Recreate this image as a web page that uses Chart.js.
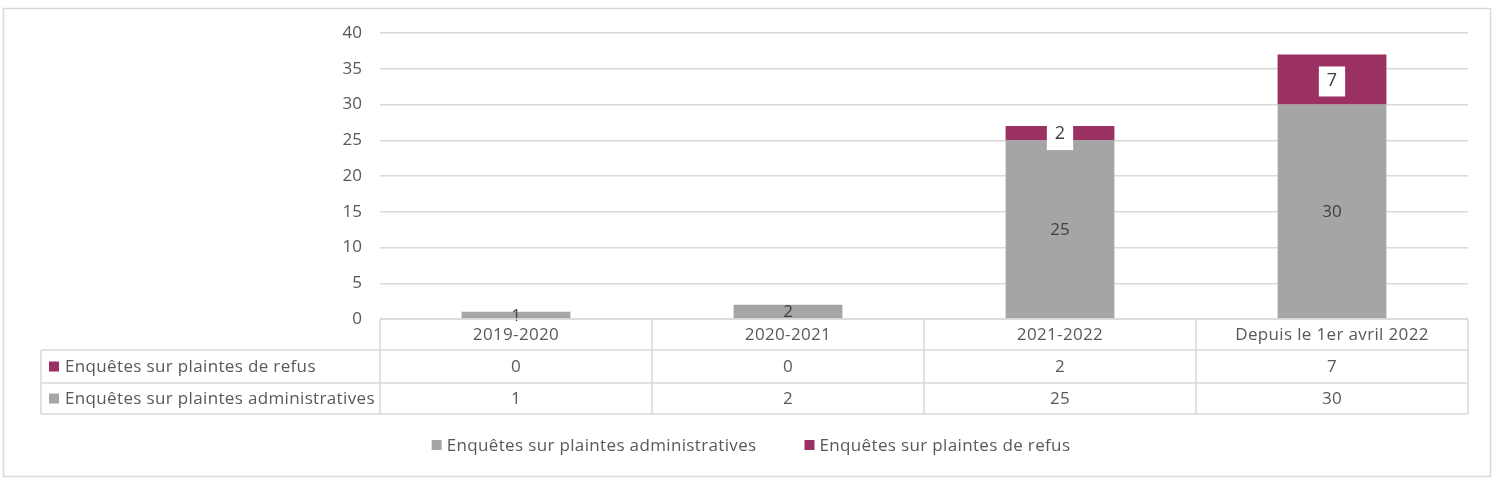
<!DOCTYPE html>
<html><head><meta charset="utf-8">
<script src="https://cdn.jsdelivr.net/npm/chart.js@4"></script>
<style>html,body{margin:0;padding:0;background:#fff;overflow:hidden}#wrap{width:1493px;height:479px;position:relative}</style>
</head><body><div id="wrap"><canvas id="c"></canvas></div>
<script>
const categories = ['2019-2020', '2020-2021', '2021-2022', 'Depuis le 1er avril 2022'];
const seriesNames = ['Enquêtes sur plaintes administratives', 'Enquêtes sur plaintes de refus'];
const adminValues = [1, 2, 25, 30];
const refusValues = [0, 0, 2, 7];
const yMin = 0, yMax = 40, yStep = 5;

const GRAY = '#A5A5A5', PURPLE = '#9B3163', GRID = '#D9D9D9', TXT = '#595959', LBL = '#404040';
const FONT = '"Open Sans", Lato, sans-serif';
const FS = 17;
const LS = '0.35px';

const frame = {
  id: 'frame',
  beforeDraw(chart) {
    const c = chart.ctx;
    c.save();
    c.fillStyle = '#fff'; c.fillRect(0, 0, chart.width, chart.height);
    c.strokeStyle = GRID; c.lineWidth = 1.5;
    c.strokeRect(3.5, 8.5, 1487, 468);
    c.restore();
  }
};

const valueLabels = {
  id: 'valueLabels',
  afterDatasetsDraw(chart) {
    const c = chart.ctx;
    c.save();
    c.textAlign = 'center'; c.textBaseline = 'middle';
    chart.data.datasets.forEach((ds, di) => {
      const meta = chart.getDatasetMeta(di);
      meta.data.forEach((el, i) => {
        const v = ds.data[i];
        if (!v) return;
        const cy = (el.y + el.base) / 2;
        const size = di === 1 ? 18 : FS;
        c.font = size + 'px ' + FONT;
        const t = String(v);
        if (di === 1) {
          const w = c.measureText(t).width + 16;
          const h = size + 12;
          c.fillStyle = '#fff';
          c.fillRect(el.x - w / 2, cy - h / 2 + 2, w, h);
        }
        c.fillStyle = LBL;
        c.fillText(t, el.x, cy + 1);
      });
    });
    c.restore();
  }
};

const dataTable = {
  id: 'dataTable',
  afterDraw(chart) {
    const c = chart.ctx, x = chart.scales.x, a = chart.chartArea;
    const n = categories.length;
    const cw = (a.right - a.left) / n;
    const tableLeft = 41;
    const rows = [a.bottom, a.bottom + 31, a.bottom + 64, a.bottom + 95];
    c.save();
    c.strokeStyle = GRID; c.lineWidth = 1.5;
    c.beginPath();
    c.moveTo(a.left, rows[0]); c.lineTo(a.right, rows[0]);
    for (let r = 1; r < rows.length; r++) { c.moveTo(tableLeft, rows[r]); c.lineTo(a.right, rows[r]); }
    c.moveTo(tableLeft, rows[1]); c.lineTo(tableLeft, rows[3]);
    for (let i = 0; i <= n; i++) {
      const px = a.left + i * cw;
      c.moveTo(px, rows[0]); c.lineTo(px, rows[3]);
    }
    c.stroke();
    c.font = FS + 'px ' + FONT;
    if ('letterSpacing' in c) c.letterSpacing = LS;
    c.fillStyle = TXT; c.textAlign = 'center'; c.textBaseline = 'middle';
    const tableRows = [
      { name: seriesNames[1], color: PURPLE, vals: refusValues },
      { name: seriesNames[0], color: GRAY, vals: adminValues }
    ];
    categories.forEach((cat, i) => {
      const px = x.getPixelForValue(i);
      c.fillText(cat, px, (rows[0] + rows[1]) / 2 + 1);
      tableRows.forEach((tr, r) => c.fillText(String(tr.vals[i]), px, (rows[r + 1] + rows[r + 2]) / 2 + 1));
    });
    c.textAlign = 'left';
    tableRows.forEach((tr, r) => {
      const cy = (rows[r + 1] + rows[r + 2]) / 2;
      c.fillStyle = tr.color; c.fillRect(49, cy - 5, 10, 10);
      c.fillStyle = TXT; c.fillText(tr.name, 65, cy + 1);
    });

    // legend below the table, centred on the frame
    const items = chart.data.datasets.map(ds => ({ label: ds.label, color: ds.backgroundColor }));
    const box = 10, gapBox = 5, gapItem = 48;
    const widths = items.map(it => box + gapBox + c.measureText(it.label).width);
    const total = widths.reduce((s, w) => s + w, 0) + gapItem * (items.length - 1);
    let lx = 751 - total / 2;
    const ly = 445;
    items.forEach((it, k) => {
      c.fillStyle = it.color; c.fillRect(lx, ly - 5, box, box);
      c.fillStyle = TXT; c.fillText(it.label, lx + box + gapBox, ly + 1);
      lx += widths[k] + gapItem;
    });
    c.restore();
  }
};

new Chart(document.getElementById('c'), {
  type: 'bar',
  data: {
    labels: categories,
    datasets: [
      { label: seriesNames[0], data: adminValues, backgroundColor: GRAY, barPercentage: 0.8, categoryPercentage: 0.5 },
      { label: seriesNames[1], data: refusValues, backgroundColor: PURPLE, barPercentage: 0.8, categoryPercentage: 0.5 }
    ]
  },
  options: {
    responsive: true, maintainAspectRatio: false, animation: false,
    layout: { padding: { left: 320, right: 25, top: 33, bottom: 0 } },
    plugins: {
      tooltip: { enabled: false },
      legend: { display: false }
    },
    scales: {
      x: {
        stacked: true,
        ticks: { display: false },
        grid: { display: false, drawTicks: false },
        border: { display: false },
        afterFit(s) { s.height = 160; }
      },
      y: {
        stacked: true, min: yMin, max: yMax,
        ticks: { stepSize: yStep, color: TXT, font: { family: FONT, size: FS }, padding: 18 },
        grid: { color: GRID, lineWidth: 1.5, drawTicks: false },
        border: { display: false },
        afterFit(s) { s.width = 60; }
      }
    }
  },
  plugins: [frame, valueLabels, dataTable]
});
</script></body></html>
